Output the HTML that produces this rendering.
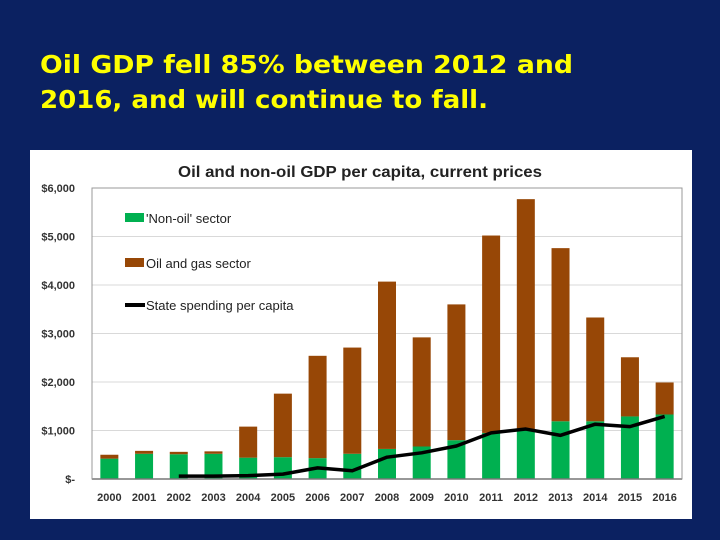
<!DOCTYPE html>
<html><head><meta charset="utf-8"><style>
html,body{margin:0;padding:0;background:#0b2161;width:720px;height:540px;overflow:hidden}
</style></head><body>
<svg id="s" width="720" height="540" xmlns="http://www.w3.org/2000/svg">
<rect width="720" height="540" fill="#0b2161"/>
<text x="40" y="73" fill="#ffff00" font-family="DejaVu Sans" font-weight="bold" font-size="25" textLength="533" lengthAdjust="spacingAndGlyphs">Oil GDP fell 85% between 2012 and</text>
<text x="40" y="108" fill="#ffff00" font-family="DejaVu Sans" font-weight="bold" font-size="25" textLength="448" lengthAdjust="spacingAndGlyphs">2016, and will continue to fall.</text>
<rect x="30" y="150" width="662" height="369" fill="#ffffff"/>
<text x="360" y="177" text-anchor="middle" font-family="Liberation Sans" font-weight="bold" font-size="16" fill="#222" textLength="364" lengthAdjust="spacingAndGlyphs">Oil and non-oil GDP per capita, current prices</text>
<g id="grid"></g><g id="bars"></g><g id="line"></g><g id="axes"></g>
<g>
<rect x="125" y="213" width="19" height="9" fill="#00b050"/>
<text x="146" y="223" font-family="Liberation Sans" font-size="13" fill="#222">'Non-oil' sector</text>
<rect x="125" y="258" width="19" height="9" fill="#974706"/>
<text x="146" y="268" font-family="Liberation Sans" font-size="13" fill="#222">Oil and gas sector</text>
<line x1="125" y1="305" x2="145" y2="305" stroke="#000" stroke-width="4"/>
<text x="146" y="310" font-family="Liberation Sans" font-size="13" fill="#222">State spending per capita</text>
</g>
</svg>
<script>
const years=["2000","2001","2002","2003","2004","2005","2006","2007","2008","2009","2010","2011","2012","2013","2014","2015","2016"];
const nonOil=[420,520,510,520,440,450,430,520,620,670,800,950,1020,1190,1190,1290,1330];
const oilGas=[80,60,50,50,640,1310,2110,2190,3450,2250,2800,4070,4750,3570,2140,1220,660];
const spending=[null,null,60,60,70,100,230,170,450,540,680,950,1030,900,1130,1080,1290];
const yTicks=[0,1000,2000,3000,4000,5000,6000];
const yTickLabels=["$-","$1,000","$2,000","$3,000","$4,000","$5,000","$6,000"];
const NS="http://www.w3.org/2000/svg";
const X0=92,X1=682,Y0=479,YT=188,YMAX=6000;
const band=(X1-X0)/years.length;
const xc=i=>X0+band*(i+0.5);
const y=v=>Y0-(v/YMAX)*(Y0-YT);
function mk(t,a,p){const e=document.createElementNS(NS,t);for(const k in a)e.setAttribute(k,a[k]);p.appendChild(e);return e;}
const grid=document.getElementById('grid'),bars=document.getElementById('bars'),line=document.getElementById('line'),axes=document.getElementById('axes');
yTicks.forEach((v,i)=>{
  if(v>0){const g=mk('line',{x1:X0,x2:X1,y1:y(v),y2:y(v),stroke:'#d9d9d9','stroke-width':1},grid);
  
  }
  const t=mk('text',{x:75,y:y(v)+4,'text-anchor':'end','font-family':'Liberation Sans','font-size':'11','font-weight':'bold',fill:'#333'},axes);
  t.textContent=yTickLabels[i];
  
  
});
const bw=18;
years.forEach((yr,i)=>{
  const b1=mk('rect',{x:xc(i)-bw/2,y:y(nonOil[i]),width:bw,height:Y0-y(nonOil[i]),fill:'#00b050'},bars);
  
  
  const b2=mk('rect',{x:xc(i)-bw/2,y:y(nonOil[i]+oilGas[i]),width:bw,height:y(nonOil[i])-y(nonOil[i]+oilGas[i]),fill:'#974706'},bars);
  
  
  const t=mk('text',{x:xc(i),y:501,'text-anchor':'middle','font-family':'Liberation Sans','font-size':'11','font-weight':'bold',fill:'#333'},axes);
  t.textContent=yr;
  
  
});
let d='';spending.forEach((v,i)=>{if(v!==null)d+=(d?'L':'M')+xc(i)+' '+y(v);});
const p=mk('path',{d:d,fill:'none',stroke:'#000','stroke-width':3.5,'stroke-linejoin':'round'},line);


const ax=mk('line',{x1:X0,x2:X1,y1:Y0,y2:Y0,stroke:'#333','stroke-width':1.5},axes);


const fr=mk('rect',{x:X0,y:YT,width:X1-X0,height:Y0-YT,fill:'none',stroke:'#999','stroke-width':1},axes);


</script>
</body></html>
